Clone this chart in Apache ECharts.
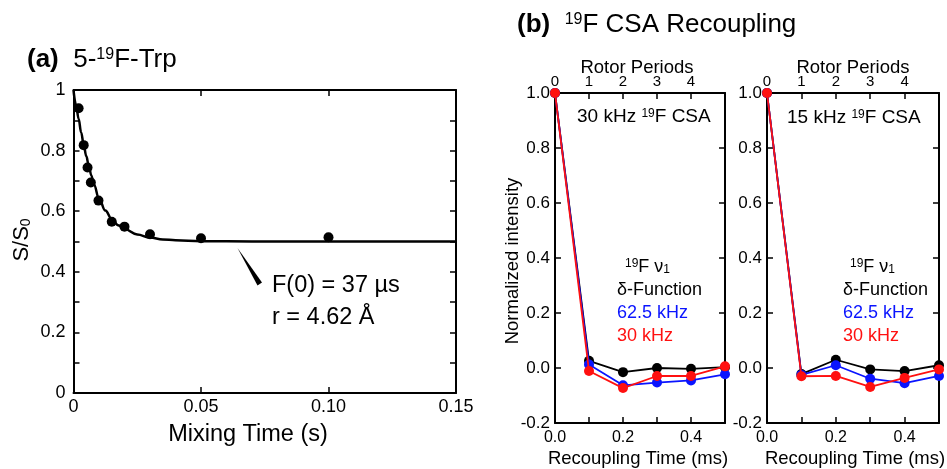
<!DOCTYPE html>
<html><head><meta charset="utf-8">
<script src="https://cdn.jsdelivr.net/npm/echarts@6/dist/echarts.min.js"></script>
<style>html,body{margin:0;padding:0;background:#fff}#c{width:947px;height:469px}</style>
</head><body><div id="c"></div>
<script>
// ---- Panel (a): 5-19F-Trp ----
const mixTime = [0.002, 0.004, 0.0055, 0.0068, 0.0098, 0.015, 0.020, 0.030, 0.050, 0.100];
const ratioS  = [0.94, 0.818, 0.744, 0.695, 0.635, 0.565, 0.549, 0.524, 0.511, 0.514];
const fitTime = [0, 0.001, 0.002, 0.003, 0.004, 0.005, 0.006, 0.007, 0.008, 0.010, 0.0125, 0.015, 0.0175, 0.020, 0.025, 0.030, 0.035, 0.040, 0.050, 0.070, 0.150];
const fitS    = [1.0, 0.95, 0.905, 0.86, 0.82, 0.782, 0.75, 0.718, 0.688, 0.642, 0.602, 0.574, 0.554, 0.541, 0.523, 0.513, 0.507, 0.504, 0.501, 0.500, 0.500];
const aXLabels = ['0', '0.05', '0.10', '0.15'];
const aYLabels = ['0', '', '0.2', '', '0.4', '', '0.6', '', '0.8', '', '1'];

// ---- Panel (b): 19F CSA recoupling ----
const recTime = [0, 0.1, 0.2, 0.3, 0.4, 0.5];
const csa30Delta = [1.0, 0.026, -0.015, 0.0, -0.003, 0.003];
const csa30Blue  = [1.0, 0.013, -0.063, -0.053, -0.045, -0.023];
const csa30Red   = [1.0, -0.011, -0.073, -0.029, -0.029, 0.006];
const csa15Delta = [1.0, -0.022, 0.030, -0.005, -0.011, 0.010];
const csa15Blue  = [1.0, -0.025, 0.010, -0.039, -0.055, -0.029];
const csa15Red   = [1.0, -0.030, -0.029, -0.069, -0.036, -0.005];
const bXLabels = ['0.0', '', '0.2', '', '0.4', ''];
const rotorLabels = ['0', '1', '2', '3', '4', ''];
const bYLabels = ['-0.2', '0.0', '0.2', '0.4', '0.6', '0.8', '1.0'];

const FONT = '"Liberation Sans", Arial, sans-serif';
const BLUE = '#0a14ff', RED = '#ff1010', BLACK = '#000';
const zip = (xs, ys) => xs.map((x, i) => [x, ys[i]]);

function ax(grid, pos, min, max, interval, labels, fs, margin) {
  return {type: 'value', gridIndex: grid, position: pos, min, max, interval,
    axisLine: {show: true, onZero: false, lineStyle: {color: '#000', width: 2}},
    splitLine: {show: false},
    axisTick: {show: true, inside: true, length: 6, lineStyle: {color: '#000', width: 1.5}},
    axisLabel: labels ? {show: true, color: '#000', fontFamily: FONT, fontSize: fs, margin,
      formatter: (v, i) => labels[i] !== undefined ? labels[i] : ''} : {show: false}};
}

const lineSeries = (xi, yi, data, color, z) => ({
  type: 'line', xAxisIndex: xi, yAxisIndex: yi, data: zip(recTime, data),
  symbol: 'circle', symbolSize: 10, clip: false, z,
  itemStyle: {color, opacity: 1}, lineStyle: {color, width: 1.8}
});

function txt(x, y, text, fs, opts = {}) {
  return Object.assign({type: 'text', x, y, z: 100, style: Object.assign({
    text, fontSize: fs, fontFamily: FONT, fill: opts.fill || '#000',
    align: opts.align || 'left', verticalAlign: 'middle'}, opts.style || {})},
    opts.el || {});
}
const supRich = (n, s) => ({
  b: {fontSize: n, fontWeight: 'bold', fontFamily: FONT},
  n: {fontSize: n, fontFamily: FONT},
  s: {fontSize: s, verticalAlign: 'top', fontFamily: FONT},
  u: {fontSize: s, verticalAlign: 'bottom', fontFamily: FONT}
});

const chart = echarts.init(document.getElementById('c'), null, {renderer: 'canvas'});
chart.setOption({
  backgroundColor: '#fff',
  animation: false,
  grid: [
    {left: 73.5, top: 90, width: 382.5, height: 303},
    {left: 555, top: 93, width: 170, height: 330},
    {left: 767, top: 93, width: 172, height: 330}
  ],
  xAxis: [
    ax(0, 'bottom', 0, 0.15, 0.05, aXLabels, 18, 5),
    ax(0, 'top', 0, 0.15, 0.05, null),
    ax(1, 'bottom', 0, 0.5, 0.1, bXLabels, 16, 7),
    ax(1, 'top', 0, 0.5, 0.1, rotorLabels, 15, 4),
    ax(2, 'bottom', 0, 0.5, 0.1, bXLabels, 16, 7),
    ax(2, 'top', 0, 0.5, 0.1, rotorLabels, 15, 4)
  ],
  yAxis: [
    ax(0, 'left', 0, 1, 0.1, aYLabels, 18, 8),
    ax(0, 'right', 0, 1, 0.1, null),
    ax(1, 'left', -0.2, 1.0, 0.2, bYLabels, 17, 5),
    ax(1, 'right', -0.2, 1.0, 0.2, null),
    ax(2, 'left', -0.2, 1.0, 0.2, bYLabels, 17, 5),
    ax(2, 'right', -0.2, 1.0, 0.2, null)
  ],
  series: [
    {type: 'line', xAxisIndex: 0, yAxisIndex: 0, data: zip(fitTime, fitS), showSymbol: false,
     smooth: 0.4, smoothMonotone: 'x', lineStyle: {color: '#000', width: 2.5}, z: 2},
    {type: 'scatter', xAxisIndex: 0, yAxisIndex: 0, data: zip(mixTime, ratioS),
     symbolSize: 10, itemStyle: {color: '#000', opacity: 1}, clip: false, z: 3},
    lineSeries(2, 2, csa30Delta, BLACK, 2),
    lineSeries(2, 2, csa30Blue, BLUE, 3),
    lineSeries(2, 2, csa30Red, RED, 4),
    lineSeries(4, 4, csa15Delta, BLACK, 2),
    lineSeries(4, 4, csa15Blue, BLUE, 3),
    lineSeries(4, 4, csa15Red, RED, 4)
  ],
  graphic: [
    // panel (a)
    txt(27, 60, '{b|(a)}  {n|5-}{s|19}{n|F-Trp}', 26, {style: {rich: supRich(26, 16)}}),
    txt(248, 435, 'Mixing Time (s)', 23.5, {align: 'center'}),
    txt(22, 240, '{n|S/S}{u|0}', 22, {align: 'center', el: {rotation: Math.PI / 2}, style: {rich: supRich(22, 14)}}),
    {type: 'polygon', z: 100, shape: {points: [[237.5, 248], [257.5, 285.5], [262, 282.5]]}, style: {fill: '#000'}},
    txt(272, 286, 'F(0) = 37 µs', 23.5),
    txt(272, 318, 'r = 4.62 Å', 23.5),
    // panel (b)
    txt(517, 25, '{b|(b)}  {s|19}{n|F CSA Recoupling}', 26, {style: {rich: supRich(26, 16)}}),
    txt(637, 68, 'Rotor Periods', 18.5, {align: 'center'}),
    txt(853, 68, 'Rotor Periods', 18.5, {align: 'center'}),
    txt(638, 459, 'Recoupling Time (ms)', 18.5, {align: 'center'}),
    txt(855, 459, 'Recoupling Time (ms)', 18.5, {align: 'center'}),
    txt(513, 261, 'Normalized intensity', 18.5, {align: 'center', el: {rotation: Math.PI / 2}}),
    txt(577, 117, '{n|30 kHz }{s|19}{n|F CSA}', 19, {style: {rich: supRich(19, 12)}}),
    txt(787, 118, '{n|15 kHz }{s|19}{n|F CSA}', 19, {style: {rich: supRich(19, 12)}}),
    txt(625, 267, '{s|19}{n|F ν}{u|1}', 18, {style: {rich: supRich(18, 12)}}),
    txt(617, 290, 'δ-Function', 18),
    txt(617, 313, '62.5 kHz', 18, {fill: BLUE}),
    txt(617, 336, '30 kHz', 18, {fill: RED}),
    txt(850, 267, '{s|19}{n|F ν}{u|1}', 18, {style: {rich: supRich(18, 12)}}),
    txt(843, 290, 'δ-Function', 18),
    txt(843, 313, '62.5 kHz', 18, {fill: BLUE}),
    txt(843, 336, '30 kHz', 18, {fill: RED})
  ]
});
</script></body></html>
